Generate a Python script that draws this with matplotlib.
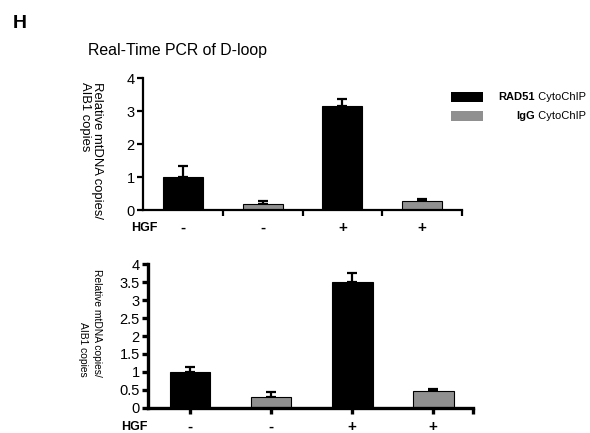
import matplotlib
matplotlib.use('Agg')
import matplotlib.pyplot as plt
from matplotlib.patches import Rectangle

plt.rcParams['font.family'] = ['Liberation Sans', 'DejaVu Sans']

# ---- data ----
antibody = ['RAD51', 'IgG', 'RAD51', 'IgG']
hgf = ['-', '-', '+', '+']
top_vals = [1.0, 0.18, 3.15, 0.28]
top_err = [0.33, 0.09, 0.22, 0.04]
bot_vals = [1.0, 0.29, 3.50, 0.47]
bot_err = [0.14, 0.15, 0.27, 0.06]
top_yticks = [0, 1, 2, 3, 4]
bot_yticks = [0, 0.5, 1, 1.5, 2, 2.5, 3, 3.5, 4]
bot_yticklabels = ['0', '0.5', '1', '1.5', '2', '2.5', '3', '3.5', '4']

color_map = {'RAD51': '#000000', 'IgG': '#909090'}
colors = [color_map[a] for a in antibody]

W, H = 590, 433
fig = plt.figure(figsize=(W / 100, H / 100), dpi=100)


def px(x0, y_top, x1, y_bot):
    # pixel box -> figure fraction [left, bottom, width, height]
    return [x0 / W, 1 - y_bot / H, (x1 - x0) / W, (y_bot - y_top) / H]


def style_axes(ax, lw):
    for s in ['top', 'right']:
        ax.spines[s].set_visible(False)
    for s in ['left', 'bottom']:
        ax.spines[s].set_linewidth(lw)
    ax.tick_params(axis='both', width=lw, length=4, direction='out', labelsize=10.5, pad=2)
    ax.tick_params(axis='x', labelbottom=False)


# ---- top panel ----
ax1 = fig.add_axes(px(143, 78, 462, 210))
pos1 = [0.5, 1.5, 2.5, 3.5]
ax1.bar(pos1, top_vals, width=0.5, color=colors, edgecolor='black', linewidth=0.8, zorder=2)
ax1.errorbar(pos1, top_vals, yerr=[[0] * 4, top_err], fmt='none', ecolor='black',
             elinewidth=1.6, capsize=3.5, capthick=1.6, zorder=1)
ax1.set_xlim(0, 4)
ax1.set_ylim(0, 4)
ax1.set_yticks(top_yticks)
ax1.set_xticks([1, 2, 3, 4])
style_axes(ax1, 1.6)
for x, s in zip(pos1, hgf):
    ax1.annotate(s, xy=(x, 0), xycoords=('data', 'axes fraction'), xytext=(0, -18),
                 textcoords='offset pixels', ha='center', va='center',
                 fontsize=11, fontweight='bold')

# ---- bottom panel ----
ax2 = fig.add_axes(px(148, 264.3, 473, 407.7))
pos2 = [0, 1, 2, 3]
ax2.bar(pos2, bot_vals, width=0.5, color=colors, edgecolor='black', linewidth=0.8, zorder=2)
ax2.errorbar(pos2, bot_vals, yerr=[[0] * 4, bot_err], fmt='none', ecolor='black',
             elinewidth=1.6, capsize=3.5, capthick=1.6, zorder=1)
ax2.set_xlim(-0.52, 3.49)
ax2.set_ylim(0, 4)
ax2.set_yticks(bot_yticks)
ax2.set_yticklabels(bot_yticklabels)
ax2.set_xticks(pos2 + [3.49])
style_axes(ax2, 2.4)
for x, s in zip(pos2, hgf):
    ax2.annotate(s, xy=(x, 0), xycoords=('data', 'axes fraction'), xytext=(0, -19),
                 textcoords='offset pixels', ha='center', va='center',
                 fontsize=11, fontweight='bold')

# ---- texts ----
fig.text(13 / W, 1 - 23 / H, 'H', fontsize=14, fontweight='bold', ha='left', va='center')
fig.text(88 / W, 1 - 50 / H, 'Real-Time PCR of D-loop', fontsize=11.4, ha='left', va='center')
fig.text(157 / W, 1 - 228 / H, 'HGF', fontsize=9, fontweight='bold', ha='right', va='center')
fig.text(148 / W, 1 - 427 / H, 'HGF', fontsize=9, fontweight='bold', ha='right', va='center')

ylab = 'Relative mtDNA copies/\nAIB1 copies'
fig.text(91 / W, 1 - 150 / H, ylab, fontsize=9.4, rotation=-90, ha='center', va='center',
         multialignment='left', linespacing=1.0)
fig.text(90 / W, 1 - 323 / H, ylab, fontsize=7.4, rotation=-90, ha='center', va='center',
         multialignment='right', linespacing=1.4)

# ---- legend (drawn by hand: right-aligned labels with bold part) ----
fig.canvas.draw()
renderer = fig.canvas.get_renderer()
leg = [('RAD51', 97), ('IgG', 116)]
for name, yc in leg:
    fig.add_artist(Rectangle((451 / W, 1 - (yc + 5) / H), 32 / W, 10 / H,
                             transform=fig.transFigure, facecolor=color_map[name],
                             edgecolor='none'))
    t = fig.text(586 / W, 1 - yc / H, ' CytoChIP', fontsize=8, ha='right', va='center')
    bb = t.get_window_extent(renderer)
    fig.text(bb.x0 / W, 1 - yc / H, name, fontsize=8, fontweight='bold',
             ha='right', va='center')

fig.savefig('out.png', dpi=100)
